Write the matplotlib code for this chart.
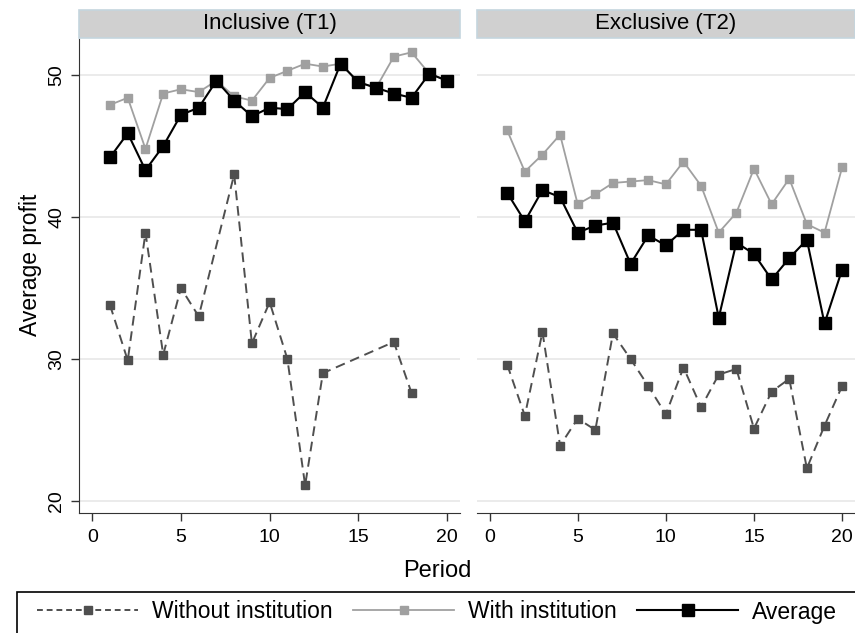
import numpy as np
import matplotlib
matplotlib.use("Agg")
import matplotlib.pyplot as plt
from matplotlib.patches import Rectangle
from matplotlib.lines import Line2D

plt.rcParams['font.family'] = ['Liberation Sans', 'DejaVu Sans']

periods = np.arange(1, 21)
panels = ["Inclusive (T1)", "Exclusive (T2)"]

# T1 (inclusive)
t1_without = [33.8, 29.9, 38.9, 30.3, 35.0, 33.0, None, 43.0, 31.1, 34.0,
              30.0, 21.1, 29.0, None, None, None, 31.2, 27.6, None, None]
t1_with = [47.9, 48.4, 44.8, 48.7, 49.0, 48.8, 49.6, 48.5, 48.2, 49.8,
           50.3, 50.8, 50.6, 50.8, 49.5, 49.1, 51.3, 51.6, 50.1, 49.6]
t1_avg = [44.2, 45.9, 43.3, 45.0, 47.2, 47.7, 49.6, 48.2, 47.1, 47.7,
          47.6, 48.8, 47.7, 50.8, 49.5, 49.1, 48.7, 48.4, 50.1, 49.6]

# T2 (exclusive)
t2_without = [29.6, 26.0, 31.9, 23.9, 25.8, 25.0, 31.8, 30.0, 28.1, 26.1,
              29.4, 26.6, 28.9, 29.3, 25.1, 27.7, 28.6, 22.3, 25.3, 28.1]
t2_with = [46.1, 43.2, 44.4, 45.8, 40.9, 41.6, 42.4, 42.5, 42.6, 42.3,
           43.9, 42.2, 38.9, 40.3, 43.4, 40.9, 42.7, 39.5, 38.9, 43.5]
t2_avg = [41.7, 39.7, 41.9, 41.4, 38.9, 39.4, 39.6, 36.7, 38.7, 38.0,
          39.1, 39.1, 32.9, 38.2, 37.4, 35.6, 37.1, 38.4, 32.5, 36.3]

c_without = "#4f4f4f"
c_with = "#a0a0a0"
c_avg = "#000000"


def clean(y):
    # Stata connects across missing values, so just drop them
    y = np.array([np.nan if v is None else v for v in y], dtype=float)
    ok = ~np.isnan(y)
    return periods[ok], y[ok]


fig = plt.figure(figsize=(8.55, 6.33), dpi=100)
W, H = 855.0, 633.0
ax1 = fig.add_axes([79.3 / W, 1 - 513.3 / H, (460 - 79.3) / W, (513.3 - 39) / H])
ax2 = fig.add_axes([476.7 / W, 1 - 513.3 / H, (855 - 476.7) / W, (513.3 - 39) / H])

data = [(t1_without, t1_with, t1_avg), (t2_without, t2_with, t2_avg)]

for i, ax in enumerate([ax1, ax2]):
    wo, wi, av = data[i]
    x, y = clean(wo)
    ax.plot(x, y, color=c_without, lw=1.4, ls=(0, (5, 3)), marker='s',
            ms=6.2, mec=c_without, mfc=c_without, zorder=3)
    x, y = clean(wi)
    ax.plot(x, y, color=c_with, lw=1.3, marker='s', ms=6.2,
            mec=c_with, mfc=c_with, zorder=3)
    x, y = clean(av)
    ax.plot(x, y, color=c_avg, lw=1.5, marker='s', ms=9,
            mec=c_avg, mfc=c_avg, zorder=4)

    ax.set_xlim(-0.73, 20.73)
    ax.set_ylim(19.13, 52.54)
    ax.set_xticks([0, 5, 10, 15, 20])
    ax.set_yticks([20, 30, 40, 50])
    for yy in [20, 30, 40, 50]:
        ax.axhline(yy, color="#e8e8e8", lw=1.2, zorder=1)
    ax.spines['top'].set_visible(False)
    ax.spines['right'].set_visible(False)
    ax.spines['bottom'].set_color("#333333")
    ax.spines['left'].set_color("#333333")
    ax.tick_params(axis='x', direction='out', length=6, width=1,
                   colors="#333333", labelsize=14, labelcolor='black', pad=5)
    ax.tick_params(axis='y', direction='out', length=6, width=1,
                   colors="#333333", labelsize=14, labelcolor='black',
                   labelrotation=90, pad=4)
    for lab in ax.get_yticklabels():
        lab.set_va('center')

    # strip header
    ax.add_patch(Rectangle((0, 1 + 1.5 / 474.3), 1, 28 / 474.3,
                           transform=ax.transAxes, clip_on=False,
                           facecolor="#d0d0d0", edgecolor="#c5d5de", lw=1.2))
    ax.text(0.5, 1 + 15.5 / 474.3, panels[i], transform=ax.transAxes,
            ha='center', va='center', fontsize=16)

ax2.spines['left'].set_visible(False)
ax2.tick_params(axis='y', left=False, labelleft=False)

fig.text(30 / W, 1 - 265 / H, "Average profit", rotation=90,
         ha='center', va='center', fontsize=16.5)
fig.text(437 / W, 1 - 571 / H, "Period", ha='center', va='center', fontsize=17)

# legend box, cut off by the figure edge like the original
fig.patches.append(Rectangle((17 / W, -0.2), 1.2, 0.2 + 1 - 592 / H,
                             transform=fig.transFigure, fill=False,
                             edgecolor='black', lw=1.2))
handles = [
    Line2D([], [], color=c_without, lw=1.4, ls=(0, (3, 2)), marker='s',
           ms=6.2, mec=c_without, mfc=c_without),
    Line2D([], [], color=c_with, lw=1.3, marker='s', ms=6.2,
           mec=c_with, mfc=c_with),
    Line2D([], [], color=c_avg, lw=1.5, marker='s', ms=9,
           mec=c_avg, mfc=c_avg),
]
fig.legend(handles, ["Without institution", "With institution", "Average"],
           loc='center left', bbox_to_anchor=(26 / W, 1 - 612 / H),
           ncol=3, frameon=False, fontsize=16.5, handlelength=4.4,
           handletextpad=0.6, columnspacing=0.9, borderpad=0)

fig.savefig("out.png", dpi=100)
